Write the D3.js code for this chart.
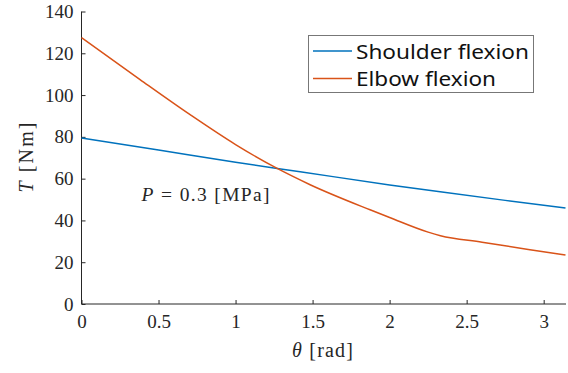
<!DOCTYPE html>
<html>
<head>
<meta charset="utf-8">
<script src="https://cdn.jsdelivr.net/npm/d3@7"></script>
<style>
  body { margin: 0; background: #fff; }
  svg { display: block; }
</style>
</head>
<body>
<div id="chart"></div>
<script>
const WIDTH = 568;
const HEIGHT = 373;

// valores
const thetaShoulder = [0, 0.5, 1.0, 1.419, 2.0, 2.328, 2.75, Math.PI];
const torqueShoulder = [79.5, 73.7, 67.8, 63.3, 57.0, 53.7, 49.6, 46.0];

const thetaElbow = [0, 0.38, 0.705, 1.0, 1.267, 1.484, 1.873, 2.0, 2.25, 2.33, 2.6, 2.9, Math.PI];
const torqueElbow = [127.5, 107.4, 90.6, 76.3, 65.0, 57.1, 45.1, 41.4, 34.4, 32.7, 29.6, 26.1, 23.4];

const xTicks = [0, 0.5, 1, 1.5, 2, 2.5, 3];
const yTicks = [0, 20, 40, 60, 80, 100, 120, 140];

const seriesNames = ["Shoulder flexion", "Elbow flexion"];
const colores = ["#0072BD", "#D95319"];

const SVG = d3.select("#chart").append("svg")
  .attr("width", WIDTH).attr("height", HEIGHT);

const x = d3.scaleLinear().domain([0, Math.PI]).range([81.5, 565.5]);
const y = d3.scaleLinear().domain([0, 140]).range([304, 11.5]);

const serif = "'Liberation Serif', 'Times New Roman', serif";
const txtColor = "#262626";

// ejes (ticks hacia adentro, como MATLAB)
const xAxis = d3.axisBottom(x).tickValues(xTicks).tickSize(-4).tickPadding(11)
  .tickFormat(d => d);
const yAxis = d3.axisLeft(y).tickValues(yTicks).tickSize(-4).tickPadding(8)
  .tickFormat(d => d);

const gx = SVG.append("g").attr("transform", `translate(0,${y(0)})`).call(xAxis);
const gy = SVG.append("g").attr("transform", `translate(${x(0)},0)`).call(yAxis);

[gx, gy].forEach(g => {
  g.attr("font-family", null).attr("font-size", null);
  g.select(".domain").attr("stroke", txtColor).attr("stroke-width", 1);
  g.selectAll(".tick line").attr("stroke", txtColor);
  g.selectAll(".tick text")
    .style("font-family", serif).style("font-size", "19px").attr("fill", txtColor);
});
gx.select(".domain").attr("d", `M${x(0)},0H${x(Math.PI) + 0.5}`);
gy.select(".domain").attr("d", `M0,${y(140)}V${y(0)}`);

// lineas
const line = d3.line().x(d => x(d[0])).y(d => y(d[1])).curve(d3.curveMonotoneX);
const datos = [
  d3.zip(thetaShoulder, torqueShoulder),
  d3.zip(thetaElbow, torqueElbow)
];

SVG.append("g").selectAll("path")
  .data(datos)
  .enter()
  .append("path")
  .attr("d", line)
  .attr("fill", "none")
  .attr("stroke", (d, i) => colores[i])
  .attr("stroke-width", 1.5);

// anotacion
const nota = SVG.append("text").attr("x", x(0.39)).attr("y", y(49.2))
  .attr("textLength", 128).attr("lengthAdjust", "spacing")
  .style("font-family", serif).style("font-size", "19.5px").attr("fill", txtColor);
nota.append("tspan").attr("font-style", "italic").text("P");
nota.append("tspan").text(" = 0.3 [MPa]");

// etiquetas de ejes
const xl = SVG.append("text").attr("x", 322.5).attr("y", 357)
  .attr("text-anchor", "middle")
  .attr("textLength", 61).attr("lengthAdjust", "spacing")
  .style("font-family", serif).style("font-size", "20px").attr("fill", txtColor);
xl.append("tspan").attr("font-style", "italic").text("θ");
xl.append("tspan").text(" [rad]");

const yl = SVG.append("text")
  .attr("transform", `translate(33,157.5) rotate(-90)`)
  .attr("text-anchor", "middle")
  .attr("textLength", 70).attr("lengthAdjust", "spacing")
  .style("font-family", serif).style("font-size", "20px").attr("fill", txtColor);
yl.append("tspan").attr("font-style", "italic").text("T");
yl.append("tspan").text(" [Nm]");

// leyenda
const anchoTexto = [173, 140];
const leyenda = SVG.append("g");
leyenda.append("rect")
  .attr("x", 308.5).attr("y", 35.5).attr("width", 225).attr("height", 57)
  .attr("fill", "#fff").attr("stroke", "#777").attr("stroke-width", 1);

seriesNames.forEach((nombre, i) => {
  const yy = 51 + i * 27.5;
  leyenda.append("line")
    .attr("x1", 313).attr("x2", 352).attr("y1", yy).attr("y2", yy)
    .attr("stroke", colores[i]).attr("stroke-width", 1.5);
  leyenda.append("text")
    .attr("x", 356).attr("y", yy + 7.5)
    .attr("textLength", anchoTexto[i])
    .attr("lengthAdjust", "spacingAndGlyphs")
    .style("font-family", "'Noto Sans', sans-serif")
    .style("font-size", "20px").attr("fill", "#111")
    .text(nombre);
});
</script>
</body>
</html>
